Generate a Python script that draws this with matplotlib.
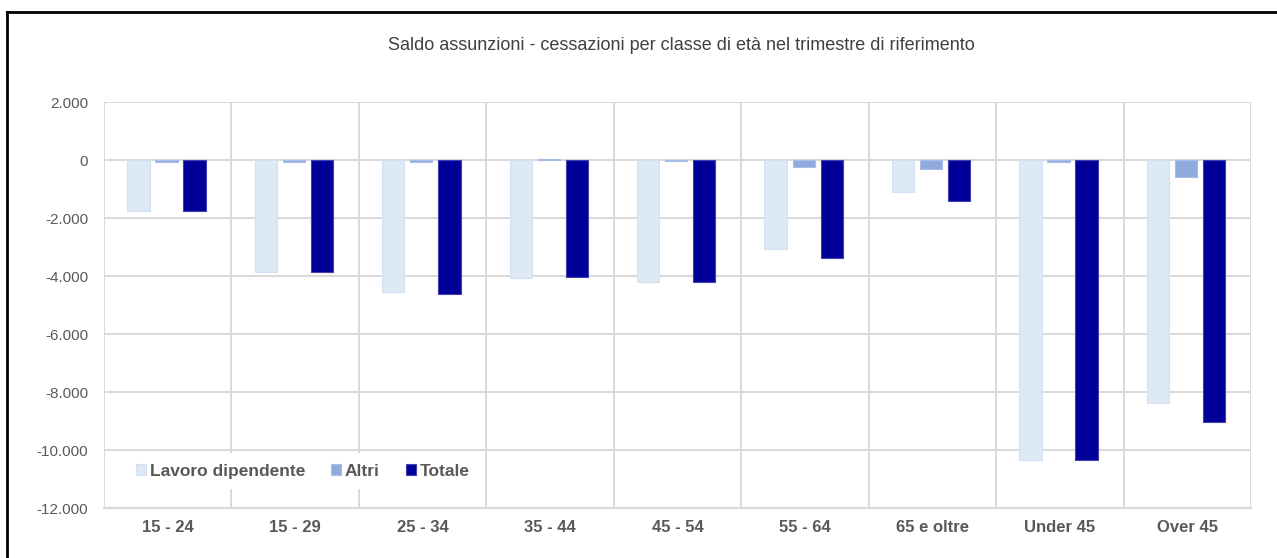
import numpy as np
import matplotlib.pyplot as plt
import matplotlib as mpl
from matplotlib.lines import Line2D
from matplotlib.ticker import FuncFormatter, MultipleLocator

mpl.rcParams['font.family'] = ['Liberation Sans', 'DejaVu Sans']

# Data
categories = ['15 - 24', '15 - 29', '25 - 34', '35 - 44', '45 - 54',
              '55 - 64', '65 e oltre', 'Under 45', 'Over 45']
lavoro = [-1750, -3850, -4550, -4080, -4200, -3080, -1120, -10340, -8390]
altri = [-60, -60, -60, 30, -50, -250, -310, -60, -600]
totale = [-1750, -3850, -4610, -4020, -4200, -3370, -1420, -10340, -9040]

series = [('Lavoro dipendente', lavoro, '#DDE9F5', '#D2E1F2'),
          ('Altri', altri, '#8FAADC', '#A9BEE6'),
          ('Totale', totale, '#000099', '#4040B0')]

GRID = '#D9D9D9'
TXT = '#595959'

fig = plt.figure(figsize=(12.77, 5.58), dpi=100)
ax = fig.add_axes([104 / 1277, 1 - 508 / 558, (1251 - 104) / 1277, (508 - 102) / 558])

x = np.arange(len(categories))
w = 0.175
off = 0.22
for i, (name, vals, col, ec) in enumerate(series):
    ax.bar(x + (i - 1) * off - 0.01, vals, w, color=col, edgecolor=ec, linewidth=0.8,
           label=name, zorder=3)

ax.set_xlim(-0.5, len(categories) - 0.5)
ax.set_ylim(-12000, 2000)
ax.yaxis.set_major_locator(MultipleLocator(2000))
ax.yaxis.set_major_formatter(FuncFormatter(lambda v, p: f'{int(v):,}'.replace(',', '.')))

# horizontal gridlines + category separators
ax.grid(axis='y', color=GRID, linewidth=1.4, zorder=0)
for b in np.arange(-0.5, len(categories), 1.0):
    ax.axvline(b, color=GRID, linewidth=1.4, zorder=0)
for s in ax.spines.values():
    s.set_visible(False)
ax.axhline(-12000, color=GRID, linewidth=1.6, zorder=1, clip_on=False)

ax.set_xticks(x)
ax.set_xticklabels(categories, fontsize=12, fontweight='bold', color=TXT)
ax.tick_params(axis='x', length=0, pad=9)
ax.tick_params(axis='y', length=0, pad=11.5, labelsize=11, labelcolor=TXT)

leg = ax.legend(loc='lower left', bbox_to_anchor=(0.011, 0.025), ncol=3, frameon=True,
                facecolor='white', edgecolor='none', framealpha=1.0,
                handlelength=0.6, handleheight=0.6, handletextpad=0.2,
                columnspacing=1.5, borderpad=0.6,
                prop={'size': 12.5, 'weight': 'bold'})
leg.set_zorder(4)
for t in leg.get_texts():
    t.set_color(TXT)

fig.text(681 / 1277, 1 - 45 / 558, 'Saldo assunzioni - cessazioni per classe di età nel trimestre di riferimento',
         ha='center', va='center', fontsize=13, color='#404040')

# outer chart border (only left and top edges visible in the crop)
fig.add_artist(Line2D([7 / 1277, 7 / 1277], [0, 1 - 12 / 558], color='black', linewidth=2))
fig.add_artist(Line2D([7 / 1277, 1], [1 - 12 / 558, 1 - 12 / 558], color='black', linewidth=2))

fig.savefig('out.png', dpi=100)
